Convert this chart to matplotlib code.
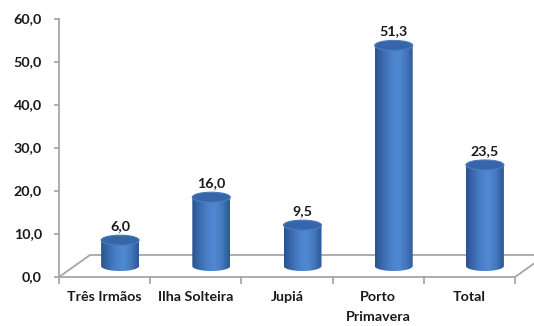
import numpy as np
import matplotlib
matplotlib.use("Agg")
import matplotlib.pyplot as plt
from matplotlib.path import Path
from matplotlib.patches import Polygon, Ellipse, PathPatch
from matplotlib.colors import LinearSegmentedColormap

categories = ["Três Irmãos", "Ilha Solteira", "Jupiá", "Porto\nPrimavera", "Total"]
values = [6.0, 16.0, 9.5, 51.3, 23.5]
value_labels = ["6,0", "16,0", "9,5", "51,3", "23,5"]
yticks = [0, 10, 20, 30, 40, 50, 60]
ytick_labels = ["0,0", "10,0", "20,0", "30,0", "40,0", "50,0", "60,0"]

W, H, DPI = 534, 326, 100
fig = plt.figure(figsize=(W / DPI, H / DPI), dpi=DPI)
fig.patch.set_facecolor("white")

# axes frame in pixel terms
x0_px, x1_px, y0_px, y1_px = 59, 515, 277, 19
ax = fig.add_axes([x0_px / W, (H - y0_px) / H, (x1_px - x0_px) / W, (y0_px - y1_px) / H])
n = len(categories)
ax.set_xlim(-0.5, n - 0.5)
ax.set_ylim(0, 60)
ax.axis("off")

# pixel -> data unit conversion
px_x = (n) / (x1_px - x0_px)
px_y = 60 / (y0_px - y1_px)

depth_dx, depth_dy = 31 * px_x, 22 * px_y   # full floor depth
axis_col = "#a6a6a6"
fs = 10.3
font = dict(family=["Lato", "DejaVu Sans"], fontweight="bold", color="#1a1a1a")

# floor
floor = Polygon([(-0.5, 0), (n - 0.5, 0), (n - 0.5 + depth_dx, depth_dy), (-0.5 + depth_dx, depth_dy)],
                closed=True, facecolor="white", edgecolor=axis_col, lw=1.3, clip_on=False, zorder=1)
ax.add_patch(floor)

# y axis
ax.plot([-0.5, -0.5], [0, 60], color=axis_col, lw=1.3, clip_on=False, zorder=2)
for t, lab in zip(yticks, ytick_labels):
    ax.plot([-0.5 - 4 * px_x, -0.5], [t, t], color=axis_col, lw=1.3, clip_on=False, zorder=2)
    ax.text(-0.5 - 17 * px_x, t, lab, ha="right", va="center", fontsize=fs, **font)

# x ticks
for i in range(n + 1):
    xb = -0.5 + i
    ax.plot([xb, xb], [0, -6 * px_y], color=axis_col, lw=1.3, clip_on=False, zorder=2)
for i, lab in enumerate(categories):
    ax.text(i, -14 * px_y, lab, ha="center", va="top", fontsize=fs, linespacing=1.8, **font)

# cylinders
cmap = LinearSegmentedColormap.from_list(
    "cyl", ["#2a5390", "#3a6aae", "#4a80c9", "#5089d2", "#4577bd", "#2c5693"])
half_w = 19 * px_x
ell_h = 10 * px_y
grad = np.linspace(0, 1, 256)[None, :]
for i, v in enumerate(values):
    cx = i + depth_dx / 2
    yb = depth_dy / 2
    yt = yb + v
    th = np.linspace(np.pi, 2 * np.pi, 60)
    bottom = np.column_stack([cx + half_w * np.cos(th), yb + ell_h / 2 * np.sin(th)])
    verts = np.vstack([bottom, [[cx + half_w, yt], [cx - half_w, yt], bottom[0]]])
    clip = PathPatch(Path(verts, closed=True), facecolor="none", edgecolor="none",
                     transform=ax.transData)
    ax.add_patch(clip)
    im = ax.imshow(grad, cmap=cmap, aspect="auto", interpolation="bilinear",
                   extent=(cx - half_w, cx + half_w, yb - ell_h, yt), zorder=3)
    im.set_clip_path(clip)
    top = Ellipse((cx, yt), 2 * half_w, ell_h, facecolor="#3666a9", edgecolor="#4a7cc2",
                  lw=0.8, zorder=4)
    ax.add_patch(top)
    ax.text(cx, yt + ell_h / 2 + 3 * px_y, value_labels[i], ha="center", va="bottom",
            fontsize=fs, **font)

ax.set_xlim(-0.5, n - 0.5)
ax.set_ylim(0, 60)
fig.savefig("out.png", dpi=DPI, facecolor="white")
